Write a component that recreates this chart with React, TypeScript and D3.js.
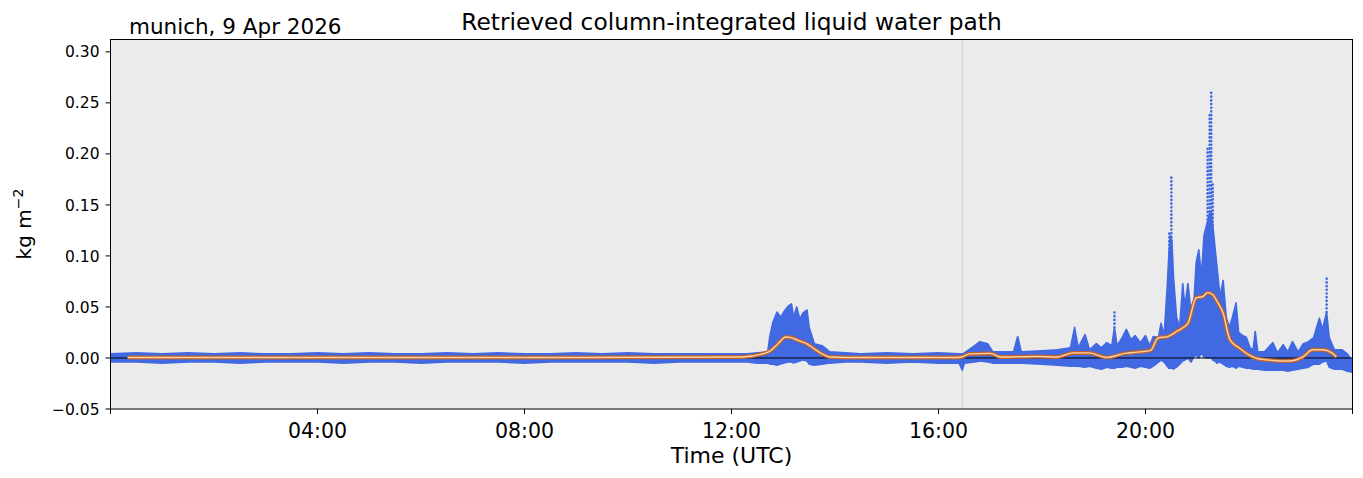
import * as d3 from 'd3'

const lwpHours = [
  0, 0.5, 1, 1.5, 2, 2.5, 3, 3.5, 4, 4.5, 5, 5.5, 6, 6.5, 7, 7.5, 8, 8.5, 9, 9.5, 10, 10.5, 11, 11.5, 12,
  12.3, 12.5, 12.7, 12.74, 12.8, 12.88, 12.95, 13.02, 13.1, 13.16, 13.2, 13.26, 13.32, 13.38, 13.46, 13.5, 13.6, 13.75, 13.9,
  14.2, 14.5, 15.0, 15.5, 16.0, 16.4, 16.46, 16.5, 16.7, 16.8, 16.95, 17.05, 17.45, 17.53, 17.6, 18.0, 18.3,
  18.55, 18.63, 18.7, 18.83, 18.92, 19.05, 19.15, 19.25, 19.35, 19.4, 19.45, 19.55, 19.63, 19.72, 19.8, 19.9,
  20.0, 20.08, 20.15, 20.25, 20.3, 20.36, 20.42, 20.45, 20.48, 20.51, 20.54, 20.6, 20.66, 20.72, 20.76, 20.82, 20.88, 20.93,
  20.98, 21.03, 21.08, 21.13, 21.18, 21.24, 21.27, 21.3, 21.34, 21.38, 21.44, 21.5, 21.56, 21.62, 21.68, 21.75, 21.8, 21.88,
  21.95, 22.02, 22.08, 22.12, 22.17, 22.3, 22.46, 22.55, 22.66, 22.75, 22.84, 22.95, 23.05, 23.15, 23.25, 23.36, 23.42,
  23.5, 23.55, 23.65, 23.8, 23.9, 24.0,
]
const lwpHigh = [
  0.004, 0.005, 0.004, 0.005, 0.004, 0.005, 0.004, 0.004, 0.005, 0.004, 0.005, 0.004, 0.004, 0.005, 0.004, 0.005, 0.004, 0.004, 0.005, 0.004, 0.005, 0.004, 0.004, 0.004, 0.004,
  0.004, 0.005, 0.006, 0.021, 0.035, 0.045, 0.040, 0.046, 0.051, 0.053, 0.040, 0.050, 0.038, 0.044, 0.047, 0.030, 0.014, 0.012, 0.006,
  0.005, 0.004, 0.005, 0.004, 0.005, 0.004, 0.004, 0.005, 0.012, 0.016, 0.014, 0.006, 0.006, 0.021, 0.006, 0.007, 0.008,
  0.010, 0.030, 0.010, 0.023, 0.008, 0.014, 0.010, 0.015, 0.012, 0.030, 0.012, 0.020, 0.028, 0.018, 0.022, 0.015,
  0.022, 0.012, 0.021, 0.020, 0.034, 0.022, 0.070, 0.100, 0.120, 0.115, 0.080, 0.040, 0.030, 0.073, 0.050, 0.073, 0.045, 0.050,
  0.094, 0.106, 0.080, 0.120, 0.130, 0.142, 0.142, 0.130, 0.110, 0.090, 0.060, 0.076, 0.040, 0.030, 0.040, 0.054, 0.025, 0.022,
  0.020, 0.010, 0.008, 0.026, 0.006, 0.006, 0.015, 0.005, 0.013, 0.006, 0.016, 0.006, 0.014, 0.016, 0.020, 0.039, 0.028,
  0.045, 0.020, 0.008, 0.008, 0.004, -0.003,
]
const lwpLow = [
  -0.004, -0.004, -0.005, -0.004, -0.004, -0.005, -0.004, -0.004, -0.004, -0.005, -0.004, -0.004, -0.005, -0.004, -0.004, -0.004, -0.005, -0.004, -0.004, -0.004, -0.004, -0.005, -0.004, -0.004, -0.004,
  -0.004, -0.005, -0.005, -0.006, -0.006, -0.007, -0.006, -0.005, -0.004, -0.004, -0.005, -0.004, -0.003, -0.002, -0.003, -0.006, -0.007, -0.006, -0.005,
  -0.004, -0.004, -0.005, -0.004, -0.005, -0.005, -0.012, -0.005, -0.004, -0.003, -0.004, -0.005, -0.005, -0.005, -0.005, -0.006, -0.007,
  -0.008, -0.008, -0.008, -0.009, -0.008, -0.010, -0.011, -0.009, -0.010, -0.010, -0.009, -0.009, -0.008, -0.009, -0.010, -0.008,
  -0.009, -0.010, -0.008, -0.004, -0.002, -0.004, -0.008, -0.010, -0.010, -0.010, -0.011, -0.009, -0.006, -0.003, -0.002, 0.000, -0.004, 0.001,
  0.003, 0.000, 0.005, 0.001, 0.000, 0.000, 0.000, -0.002, -0.003, -0.005, -0.004, -0.006, -0.008, -0.009, -0.008, -0.010, -0.008, -0.009,
  -0.010, -0.010, -0.011, -0.011, -0.011, -0.012, -0.012, -0.012, -0.012, -0.013, -0.012, -0.011, -0.010, -0.009, -0.006, -0.006, -0.004,
  -0.003, -0.009, -0.011, -0.011, -0.013, -0.014,
]

// isolated samples above the dense mass: drawn as dotted columns
const spikeHours = [19.4, 20.46, 20.5, 21.2, 21.24, 21.27, 21.3, 23.5]
const spikeBase = [0.030, 0.100, 0.115, 0.125, 0.140, 0.140, 0.130, 0.045]
const spikeTop = [0.048, 0.125, 0.179, 0.205, 0.240, 0.262, 0.170, 0.078]

// smoothed (running mean) LWP
const smoothHours = [
  0.33, 3, 6, 9, 12.2, 12.6, 12.75, 12.9, 13.05, 13.15, 13.3, 13.45, 13.6, 13.75, 13.9, 14.5, 16.3, 16.45, 16.6, 17.0,
  17.2, 17.9, 18.3, 18.6, 18.9, 19.25, 19.6, 19.9, 20.1, 20.24, 20.43, 20.6, 20.82, 20.98, 21.1, 21.2, 21.3, 21.4, 21.5,
  21.63, 21.82, 22.0, 22.2, 22.78, 23.04, 23.23, 23.42, 23.6, 23.69,
]
const smoothValues = [
  0.0005, 0.0005, 0.0005, 0.0005, 0.001, 0.004, 0.007, 0.014, 0.0205, 0.020, 0.017, 0.014, 0.009, 0.004, 0.001, 0.0005, 0.0005, 0.001, 0.004, 0.0045,
  0.001, 0.0015, 0.001, 0.005, 0.005, 0.0005, 0.0045, 0.006, 0.0075, 0.0195, 0.021, 0.026, 0.034, 0.059, 0.060, 0.064, 0.062, 0.054, 0.044,
  0.018, 0.0095, 0.003, -0.001, -0.003, 0.001, 0.008, 0.008, 0.005, 0.001,
]

const yTicks = [-0.05, 0, 0.05, 0.1, 0.15, 0.2, 0.25, 0.3]
const xTicks = [0, 4, 8, 12, 16, 20, 24]
const xTickLabels = ['', '04:00', '08:00', '12:00', '16:00', '20:00', '']
const markerHour = 16.46

const W = 1363
const H = 478
const m = { left: 110.5, right: 1352.5, top: 39.5, bottom: 409 }
const font = 'DejaVu Sans, sans-serif'
const blue = '#4169e1'

export default function App() {
  const x = d3.scaleLinear().domain([0, 24]).range([m.left, m.right])
  const y = d3.scaleLinear().domain([-0.05, 0.3121]).range([m.bottom, m.top])

  const band = d3.area<number>()
    .x(i => x(lwpHours[i]))
    .y0(i => y(lwpLow[i]))
    .y1(i => y(lwpHigh[i]))
  const bandPath = band(d3.range(lwpHours.length)) ?? ''

  const smooth = d3.line<number>()
    .x(i => x(smoothHours[i]))
    .y(i => y(smoothValues[i]))
    .curve(d3.curveMonotoneX)
  const smoothPath = smooth(d3.range(smoothHours.length)) ?? ''

  return (
    <svg width={W} height={H} style={{ position: 'absolute', left: 0, top: 0, background: '#fff' }} fontFamily={font}>
      <defs>
        <clipPath id="plot">
          <rect x={m.left} y={m.top} width={m.right - m.left} height={m.bottom - m.top} />
        </clipPath>
      </defs>
      <rect x={m.left} y={m.top} width={m.right - m.left} height={m.bottom - m.top} fill="#ebebeb" />
      <g clipPath="url(#plot)">
        <line x1={x(markerHour)} x2={x(markerHour)} y1={m.top} y2={m.bottom} stroke="#d4d4d4" strokeWidth={1} />
        <path d={bandPath} fill={blue} stroke={blue} strokeWidth={1.6} strokeLinejoin="round" />
        {spikeHours.map((h, i) => (
          <line key={h} x1={x(h)} x2={x(h)} y1={y(spikeBase[i])} y2={y(spikeTop[i])}
            stroke={blue} strokeWidth={2.6} strokeLinecap="round" strokeDasharray="0.1 3.6" />
        ))}
        <line x1={m.left} x2={m.right} y1={y(0)} y2={y(0)} stroke="#000" strokeWidth={1} />
        <path d={smoothPath} fill="none" stroke="#c0622a" strokeWidth={4} strokeLinejoin="round" />
        <path d={smoothPath} fill="none" stroke="#fbd3a4" strokeWidth={1.4} strokeLinejoin="round" />
      </g>
      <rect x={m.left} y={m.top} width={m.right - m.left} height={m.bottom - m.top} fill="none" stroke="#000" strokeWidth={1} />

      {yTicks.map(t => (
        <g key={t} transform={`translate(${m.left},${y(t)})`}>
          <line x2={-5} stroke="#000" />
          <text x={-11} dy="0.36em" textAnchor="end" fontSize={15.5}>
            {t < 0 ? '\u2212' + Math.abs(t).toFixed(2) : t.toFixed(2)}
          </text>
        </g>
      ))}
      {xTicks.map((t, i) => (
        <g key={t} transform={`translate(${x(t)},${m.bottom})`}>
          <line y2={5} stroke="#000" />
          <text y={29} textAnchor="middle" fontSize={20.5}>{xTickLabels[i]}</text>
        </g>
      ))}

      <text x={(m.left + m.right) / 2} y={463} textAnchor="middle" fontSize={22}>Time (UTC)</text>
      <text transform={`translate(31,224) rotate(-90)`} textAnchor="middle" fontSize={20}>
        kg m<tspan dy={-8} fontSize={14}>{'\u22122'}</tspan>
      </text>
      <text x={(m.left + m.right) / 2} y={30} textAnchor="middle" fontSize={23.3}>
        Retrieved column-integrated liquid water path
      </text>
      <text x={129} y={34} fontSize={21.5}>munich, 9 Apr 2026</text>
    </svg>
  )
}
